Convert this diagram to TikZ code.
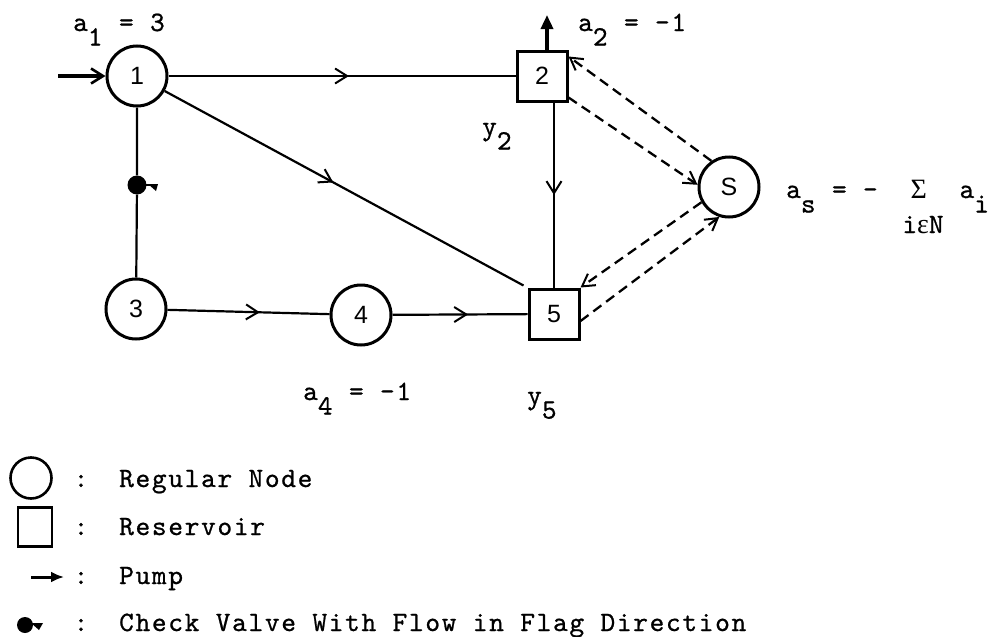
\documentclass[tikz,border=0pt]{standalone}
\usepackage{fontspec}
\newfontfamily\numfont{Liberation Sans}
\newfontfamily\typefont{lmmono10-regular.otf}[LetterSpace=6,FakeBold=0.8]
\newfontfamily\greekfont{Liberation Serif}
\usetikzlibrary{arrows.meta,decorations.markings}

\newcommand{\lo}[1]{\raisebox{-0.52em}{#1}}
\newcommand{\typer}{\typefont\fontsize{28}{28}\selectfont}

\tikzset{
  regular/.style={draw,circle,line width=3pt,minimum size=60pt,inner sep=0pt,
    font=\numfont\fontsize{25}{25}\selectfont},
  reservoir/.style={draw,rectangle,line width=3pt,minimum size=50pt,inner sep=0pt,
    font=\numfont\fontsize{25}{25}\selectfont},
  pipe/.style={line width=2.2pt},
  flowat/.style={postaction={decorate,decoration={markings,
    mark=at position #1 with {\arrow{Straight Barb[length=12pt,width=15pt,line width=2pt]}}}}},
  link/.style={line width=2.3pt,dash pattern=on 10pt off 6pt,
    -{Straight Barb[length=12pt,width=14pt,line width=2pt]}},
  valve/.style={circle,fill,inner sep=0pt,minimum size=19pt},
  lbl/.style={anchor=base west,inner sep=0pt,font=\typer},
}

\begin{document}
\begin{tikzpicture}[x=1pt,y=-1pt]
\useasboundingbox (0,0) rectangle (996,637);

% network
\node[regular] (n1) at (137,76) {1};
\node[reservoir] (n2) at (542,76) {2};
\node[regular] (nS) at (729,187) {S};
\node[regular] (n3) at (136,309) {3};
\node[regular] (n4) at (361,315) {4};
\node[reservoir] (n5) at (554,314) {5};
\node[valve] (valve) at (137,185) {};
\coordinate (pumpin) at (58,76);
\coordinate (a2top) at (547,15);

\draw[pipe,flowat=0.52] (n1) -- (n2);
\draw[pipe,flowat=0.47] (n1) -- ([xshift=-4pt,yshift=2pt]n5.north west);
\draw[pipe,flowat=0.5] (n5.north |- n2.south) -- (n5.north);
\draw[pipe] (n1) -- (valve) -- (n3);
\draw[pipe,flowat=0.57] (n3) -- (n4);
\draw[pipe,flowat=0.56] (n4) -- (n5);

% check valve flag
\draw[line width=2.2pt] (valve.center) -- ++(19,0);
\fill (valve.center) ++(11,-1) -- ++(10,0) -- ++(-2,7) -- cycle;

% supply and demand
\draw[line width=4pt,-{Straight Barb[length=12pt,width=15pt,line width=2.6pt]}] (pumpin) -- (n1.west);
\draw[line width=3.4pt,-{Triangle[length=14pt,width=12pt]}] (n2.north -| a2top) -- (a2top);

% links to the super source
\draw[link] (nS.124) -- ([yshift=-7pt]n2.north east);
\draw[link] ([yshift=5pt]n2.south east) -- (nS.176);
\draw[link] (nS.209) -- (n5.north east);
\draw[link] ([yshift=-7pt]n5.east) -- (nS.252);

% labels
\node[lbl] (la1) at (73,31) {a\lo{1} = 3};
\node[lbl] (la2) at (578,31) {a\lo{2} = -1};
\node[lbl] (ly2) at (482,135) {y\lo{2}};
\node[lbl] (las) at (786,198) {a\lo{s}~=~-~~{\greekfont Σ}~~a\lo{i}};
\node[anchor=base,inner sep=0pt,font=\typer] (lsum) at (923,233) {i{\greekfont ε}N};
\node[lbl] (la4) at (303,400) {a\lo{4} = -1};
\node[lbl] (ly5) at (527,404) {y\lo{5}};

% legend
\node[draw,circle,line width=2.6pt,minimum size=41pt,inner sep=0pt] (keynode) at (31,478) {};
\node[draw,rectangle,line width=2.8pt,minimum width=34pt,minimum height=39pt,inner sep=0pt] (keyres) at (35,527) {};
\coordinate (pumpa) at (31,577);
\coordinate (pumpb) at (64,577);
\draw[line width=3pt,-{Latex[length=13pt,width=11pt]}] (pumpa) -- (pumpb);
\node[circle,fill,inner sep=0pt,minimum size=16pt] (keyvalve) at (25,625) {};
\fill (keyvalve.center) ++(6,-2) -- ++(12,0) -- ++(-4,7) -- cycle;

\node[lbl,anchor=base] (c1) at (81,487) {:};
\node[lbl,anchor=base] (c2) at (81,535) {:};
\node[lbl,anchor=base] (c3) at (81,584) {:};
\node[lbl,anchor=base] (c4) at (81,631) {:};
\node[lbl] (t1) at (119,487) {Regular Node};
\node[lbl] (t2) at (119,535) {Reservoir};
\node[lbl] (t3) at (119,584) {Pump};
\node[lbl] (t4) at (119,631) {Check Valve With Flow in Flag Direction};
\end{tikzpicture}
\end{document}
